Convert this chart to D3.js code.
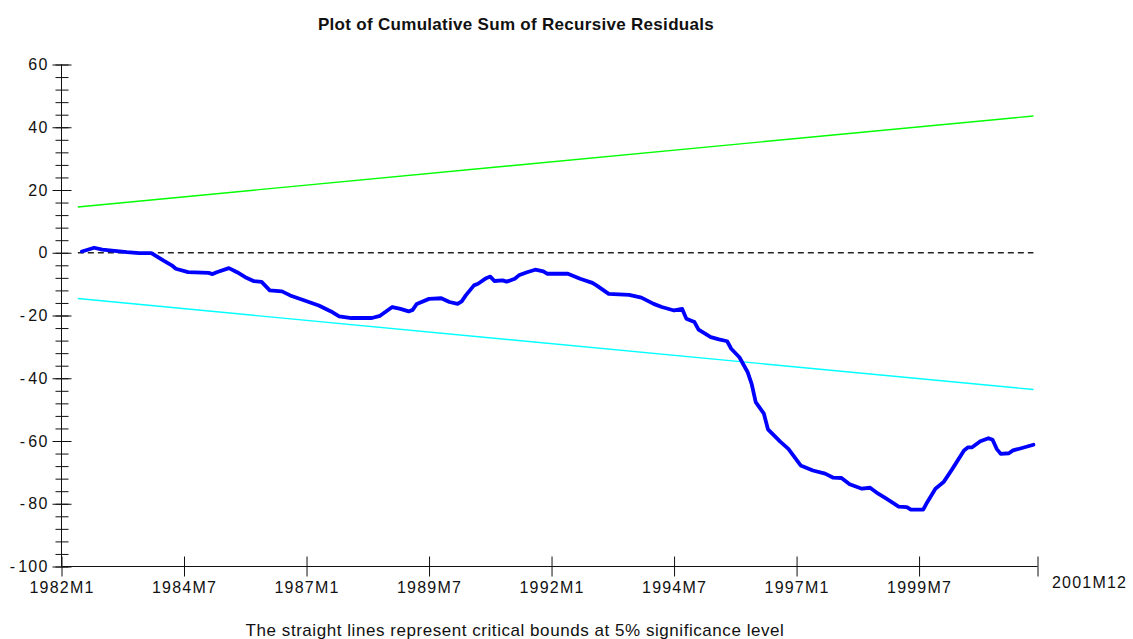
<!DOCTYPE html>
<html>
<head>
<meta charset="utf-8">
<script src="https://cdn.jsdelivr.net/npm/d3@7"></script>
<style>
  body { margin: 0; background: #fff; }
  text { font-family: "Liberation Sans", Arial, sans-serif; fill: #111; }
</style>
</head>
<body>
<div id="chart"></div>
<script>
// months counted from 1982M1 (= 0)
var xTickMonths = [0, 30, 60, 90, 120, 150, 180, 210, 239];
var xTickLabels = ["1982M1", "1984M7", "1987M1", "1989M7", "1992M1", "1994M7", "1997M1", "1999M7", "2001M12"];
var yMajorTicks = [-100, -80, -60, -40, -20, 0, 20, 40, 60];

// straight critical bounds (5%)
var boundMonths = [4, 238];
var upperBound = [14.6, 43.6];
var lowerBound = [-14.6, -43.6];
var zeroLine = [0, 0];

// cumulative sum of recursive residuals
var cusumMonths = [5, 8, 10, 16, 19, 22, 23, 25, 27, 28, 31, 36, 37, 38, 41, 43, 45, 47, 49, 51,
  54, 56, 59, 63, 66, 68, 71, 76, 78, 81, 83, 85, 86, 87, 90, 93, 95, 97, 98, 99,
  101, 102, 104, 105, 106, 108, 109, 111, 112, 114, 116, 118, 119, 124, 127, 130, 131, 134, 139, 142,
  145, 147, 150, 152, 153, 155, 156, 159, 161, 163, 164, 166, 168, 169, 170, 172, 173, 176, 178, 181,
  184, 187, 189, 191, 193, 196, 198, 200, 202, 205, 207, 208, 211, 212, 214, 216, 218, 221, 222, 223,
  225, 227, 228, 229, 230, 232, 233, 235, 238];
var cusum = [0.4, 1.6, 1.0, 0.2, -0.1, -0.1, -0.9, -2.5, -4.0, -5.1, -6.2, -6.4, -6.8, -6.2, -4.9, -6.2, -7.8, -9.0, -9.3, -12.0,
  -12.3, -13.6, -15.0, -16.8, -18.7, -20.3, -20.8, -20.8, -20.1, -17.3, -17.9, -18.7, -18.2, -16.3, -14.7, -14.5, -15.7, -16.3, -15.5, -13.6,
  -10.4, -9.9, -8.1, -7.6, -9.0, -8.8, -9.2, -8.3, -7.2, -6.2, -5.4, -5.9, -6.7, -6.7, -8.3, -9.6, -10.4, -13.1, -13.4, -14.3,
  -16.3, -17.3, -18.4, -17.9, -21.0, -22.1, -24.5, -26.9, -27.6, -28.2, -30.6, -33.3, -38.0, -41.8, -47.6, -51.3, -56.3, -60.2, -62.5, -67.8,
  -69.4, -70.4, -71.7, -71.8, -73.8, -75.2, -74.9, -76.8, -78.4, -80.9, -81.1, -81.9, -81.9, -79.5, -75.2, -73.1, -69.2, -63.0, -62.0, -62.0,
  -60.1, -59.1, -59.6, -62.5, -64.1, -63.9, -63.0, -62.3, -61.2];

var svgWidth = 1133;
var svgHeight = 639;

var svg = d3.select("#chart")
  .append("svg")
  .attr("width", svgWidth)
  .attr("height", svgHeight)
  .style("display", "block");

svg.append("rect").attr("width", svgWidth).attr("height", svgHeight).attr("fill", "#fff");

var xScale = d3.scaleLinear().domain([0, 239]).range([61.5, 1037.5]);
var yScale = d3.scaleLinear().domain([-100, 60]).range([566.5, 64.5]);

// title
svg.append("text")
  .attr("x", 516)
  .attr("y", 30)
  .attr("text-anchor", "middle")
  .style("font-size", "17px")
  .style("font-weight", "bold")
  .style("letter-spacing", "0.3px")
  .text("Plot of Cumulative Sum of Recursive Residuals");

// y axis: minor ticks every 4, major every 20, crossing the axis line
var yMinor = svg.append("g")
  .attr("transform", "translate(61.5,0)")
  .call(d3.axisLeft(yScale).tickValues(d3.range(-100, 61, 4)).tickSize(6).tickFormat(""));
yMinor.selectAll(".tick line").attr("x1", 7).attr("stroke", "#111");
yMinor.select(".domain").remove();

var yAxis = svg.append("g")
  .attr("transform", "translate(61.5,0)")
  .call(d3.axisLeft(yScale).tickValues(yMajorTicks).tickSize(9).tickPadding(4).tickFormat(d => String(d)));
yAxis.selectAll(".tick line").attr("x1", 10).attr("stroke", "#111");
yAxis.select(".domain").attr("d", "M0," + yScale(-100) + "V" + yScale(60)).attr("stroke", "#111");
yAxis.selectAll(".tick text")
  .style("font-size", "16px")
  .style("letter-spacing", "1.2px")
  .style("font-family", "'Liberation Sans', Arial, sans-serif")
  .attr("fill", "#111");
// negative labels: a small gap after the minus sign
yAxis.selectAll(".tick text").filter(d => d < 0).each(function(d) {
  var t = d3.select(this).text("");
  t.append("tspan").text("-");
  t.append("tspan").attr("dx", 2).text(String(Math.abs(d)));
});

// x axis
var xAxis = svg.append("g")
  .attr("transform", "translate(0," + yScale(-100) + ")")
  .call(d3.axisBottom(xScale).tickValues(xTickMonths).tickSize(10).tickPadding(5)
    .tickFormat((d, i) => xTickLabels[i]));
xAxis.selectAll(".tick line").attr("y1", -10).attr("stroke", "#111");
xAxis.select(".domain").attr("d", "M" + xScale(0) + ",0H" + xScale(239)).attr("stroke", "#111");
xAxis.selectAll(".tick text")
  .style("font-size", "16px")
  .style("letter-spacing", "1.2px")
  .style("font-family", "'Liberation Sans', Arial, sans-serif")
  .attr("fill", "#111");
// last label sits to the right of its tick
xAxis.selectAll(".tick text").filter((d, i) => i === xTickMonths.length - 1)
  .attr("text-anchor", "start")
  .attr("x", 14)
  .attr("y", 10);

// lines
var line = d3.line()
  .x(d => xScale(d[0]))
  .y(d => yScale(d[1]));

svg.append("path")
  .datum(boundMonths.map((m, i) => [m, zeroLine[i]]))
  .attr("d", line)
  .attr("fill", "none")
  .attr("stroke", "#222")
  .attr("stroke-width", 1.4)
  .attr("stroke-dasharray", "6,4");

svg.append("path")
  .datum(boundMonths.map((m, i) => [m, upperBound[i]]))
  .attr("d", line)
  .attr("fill", "none")
  .attr("stroke", "#00ff00")
  .attr("stroke-width", 1.4);

svg.append("path")
  .datum(boundMonths.map((m, i) => [m, lowerBound[i]]))
  .attr("d", line)
  .attr("fill", "none")
  .attr("stroke", "#00ffff")
  .attr("stroke-width", 1.4);

svg.append("path")
  .datum(cusumMonths.map((m, i) => [m, cusum[i]]))
  .attr("d", line)
  .attr("fill", "none")
  .attr("stroke", "#0000ff")
  .attr("stroke-width", 3.8)
  .attr("stroke-linejoin", "round")
  .attr("stroke-linecap", "round");

// note
svg.append("text")
  .attr("x", 515)
  .attr("y", 636)
  .attr("text-anchor", "middle")
  .style("font-size", "17px")
  .style("letter-spacing", "0.55px")
  .text("The straight lines represent critical bounds at 5% significance level");
</script>
</body>
</html>
